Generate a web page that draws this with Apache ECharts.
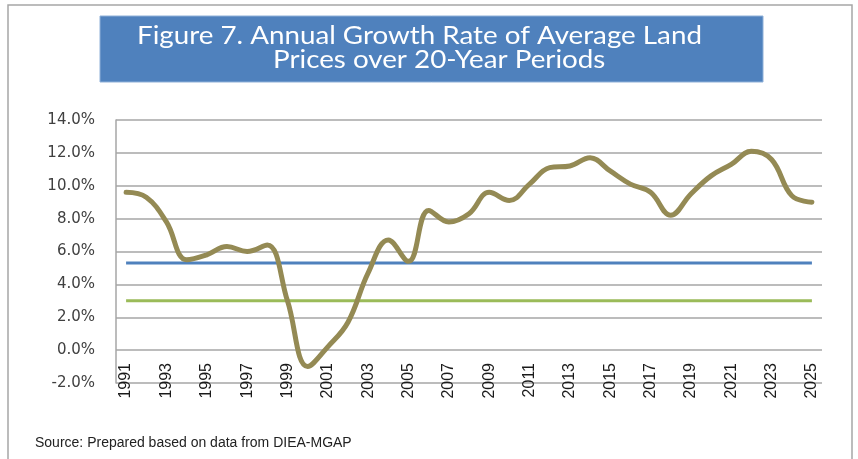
<!DOCTYPE html>
<html>
<head>
<meta charset="utf-8">
<script src="https://cdn.jsdelivr.net/npm/echarts@6/dist/echarts.min.js"></script>
<style>
  html, body { margin: 0; padding: 0; background: #fff; }
  #chart { width: 858px; height: 459px; }
</style>
</head>
<body>
<div id="chart"></div>
<script>
// years 1991..2025
const years = [];
for (let y = 1991; y <= 2025; y++) years.push(String(y));

// annual growth rate of average land price (%)
const growthRate = [
  9.6, 9.3, 7.8, 5.5, 5.8, 6.3, 6.0, 6.4, 3.0, -1.0,
  0.2, 1.7, 4.7, 6.7, 5.4, 8.5, 7.8, 8.3, 9.6, 9.1,
  10.1, 11.1, 11.2, 11.7, 10.9, 10.1, 9.6, 8.2, 9.5, 10.6,
  11.3, 12.1, 11.6, 9.4, 9.0
];
// reference levels
const blueLevel = 5.3;
const greenLevel = 3.0;

const yTicks = [-2, 0, 2, 4, 6, 8, 10, 12, 14];

const chart = echarts.init(document.getElementById('chart'));

chart.setOption({
  animation: false,
  grid: {
    left: 116,
    right: 36,
    top: 120,
    bottom: 76
  },
  xAxis: {
    type: 'category',
    data: years,
    boundaryGap: true,
    axisLine: { show: false, onZero: false },
    axisTick: { show: false },
    axisLabel: {
      interval: 1,
      rotate: 90,
      margin: -20,
      fontFamily: 'Liberation Sans Narrow, Liberation Sans',
      fontSize: 16,
      color: '#1a1a1a'
    },
    splitLine: { show: false }
  },
  yAxis: {
    type: 'value',
    min: yTicks[0],
    max: yTicks[yTicks.length - 1],
    interval: 2,
    axisLine: { show: true, lineStyle: { color: '#a6a6a6', width: 1.5 } },
    axisTick: { show: false },
    axisLabel: {
      margin: 21,
      fontFamily: 'DejaVu Sans',
      fontSize: 15,
      color: '#404040',
      formatter: v => v.toFixed(1) + '%'
    },
    splitLine: { show: true, lineStyle: { color: '#a6a6a6', width: 1.5 } }
  },
  series: [
    {
      name: 'Blue',
      type: 'line',
      data: years.map(() => blueLevel),
      symbol: 'none',
      lineStyle: { color: '#4f81bd', width: 3 },
      z: 2
    },
    {
      name: 'Green',
      type: 'line',
      data: years.map(() => greenLevel),
      symbol: 'none',
      lineStyle: { color: '#9bbb59', width: 3 },
      z: 2
    },
    {
      name: 'Growth rate',
      type: 'line',
      data: growthRate,
      smooth: 0.4,
      symbol: 'none',
      lineStyle: { color: '#948a54', width: 5, cap: 'round' },
      z: 3
    }
  ],
  graphic: [
    {
      type: 'rect',
      shape: { x: 8, y: 5, width: 844, height: 470 },
      style: { fill: 'none', stroke: '#a6a6a6', lineWidth: 1.5 },
      silent: true
    },
    {
      type: 'rect',
      shape: { x: 100, y: 16, width: 663, height: 66 },
      style: { fill: '#4f81bd', stroke: '#8fb0d8', lineWidth: 1 },
      silent: true
    },
    {
      type: 'text',
      x: 137,
      y: 36,
      scaleX: 1.11,
      style: {
        text: 'Figure 7. Annual Growth Rate of Average Land',
        fill: '#ffffff',
        font: '25px Lato',
        verticalAlign: 'middle'
      },
      silent: true
    },
    {
      type: 'text',
      x: 273,
      y: 60,
      scaleX: 1.11,
      style: {
        text: 'Prices over 20-Year Periods',
        fill: '#ffffff',
        font: '25px Lato',
        verticalAlign: 'middle'
      },
      silent: true
    },
    {
      type: 'text',
      x: 35,
      y: 443,
      style: {
        text: 'Source: Prepared based on data from DIEA-MGAP',
        fill: '#222222',
        font: '14px Liberation Sans',
        verticalAlign: 'middle'
      },
      silent: true
    }
  ]
});
</script>
</body>
</html>
